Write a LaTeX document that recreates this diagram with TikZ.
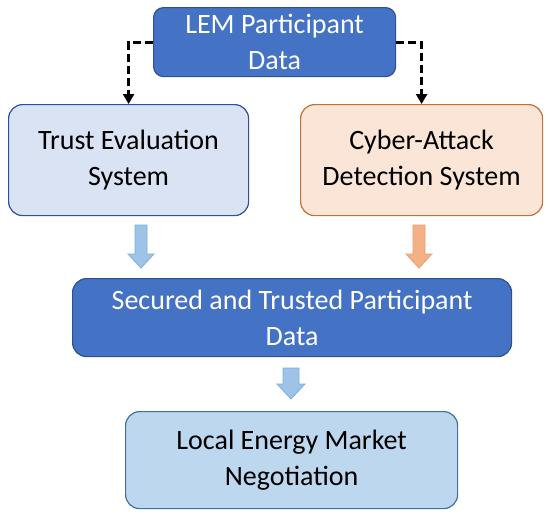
\documentclass[tikz,border=0pt]{standalone}
\usepackage{fontspec}
\setmainfont{Carlito}
\usetikzlibrary{arrows.meta}
\definecolor{darkfill}{HTML}{4472C4}
\definecolor{darkline}{HTML}{2F528F}
\definecolor{trustfill}{HTML}{DAE3F3}
\definecolor{cyberfill}{HTML}{FBE5D6}
\definecolor{cyberline}{HTML}{C0703A}
\definecolor{localfill}{HTML}{BDD7EE}
\definecolor{localline}{HTML}{41719C}
\definecolor{barrowfill}{HTML}{9DC3E6}
\definecolor{barrowline}{HTML}{7FAEDC}
\definecolor{oarrowfill}{HTML}{F4B183}
\definecolor{oarrowline}{HTML}{E9A070}
\tikzset{
  boxbase/.style={rounded corners=14pt, line width=1.2pt, align=center,
    font=\fontsize{28}{36}\selectfont, inner sep=0pt, anchor=north west},
  darkbox/.style={boxbase, fill=darkfill, draw=darkline, text=white},
  trustbox/.style={boxbase, fill=trustfill, draw=darkline, text=black},
  cyberbox/.style={boxbase, fill=cyberfill, draw=cyberline, text=black},
  localbox/.style={boxbase, fill=localfill, draw=localline, text=black},
  dashedconn/.style={line width=3pt, dash pattern=on 8pt off 4pt, -{Triangle[width=11pt,length=10pt]}},
  bluearrow/.style={fill=barrowfill, draw=barrowline, line width=0.8pt, line join=miter},
  orangearrow/.style={fill=oarrowfill, draw=oarrowline, line width=0.8pt, line join=miter},
}
\begin{document}
\begin{tikzpicture}[x=1pt,y=-1pt]
\useasboundingbox[fill=white] (0,0) rectangle (550,515);
% boxes
\node[darkbox, rounded corners=10pt, minimum width=242pt, minimum height=69pt] (lem) at (153,7) {LEM Participant\\Data};
\node[trustbox, minimum width=240pt, minimum height=111pt] (trust) at (8,104) {Trust Evaluation\\System};
\node[cyberbox, minimum width=242pt, minimum height=111pt] (cyber) at (300,104) {Cyber-Attack\\Detection System};
\node[darkbox, minimum width=439pt, minimum height=78pt] (secured) at (72,278) {Secured and Trusted Participant\\Data};
\node[localbox, minimum width=332pt, minimum height=97pt] (local) at (125,411) {Local Energy Market\\Negotiation};
% dashed connectors
\draw[dashedconn] (lem.west) -| (trust.north);
\draw[dashedconn] (lem.east) -| (cyber.north);
% block arrows
\draw[bluearrow] (135,225) -- (147,225) -- (147,254) -- (154,254) -- (141,268) -- (128,254) -- (135,254) -- cycle;
\draw[orangearrow] (413,225) -- (425,225) -- (425,254) -- (432,254) -- (419,268) -- (406,254) -- (413,254) -- cycle;
\draw[bluearrow] (283,368) -- (299,368) -- (299,384) -- (305,384) -- (291,399) -- (277,384) -- (283,384) -- cycle;
\end{tikzpicture}
\end{document}
